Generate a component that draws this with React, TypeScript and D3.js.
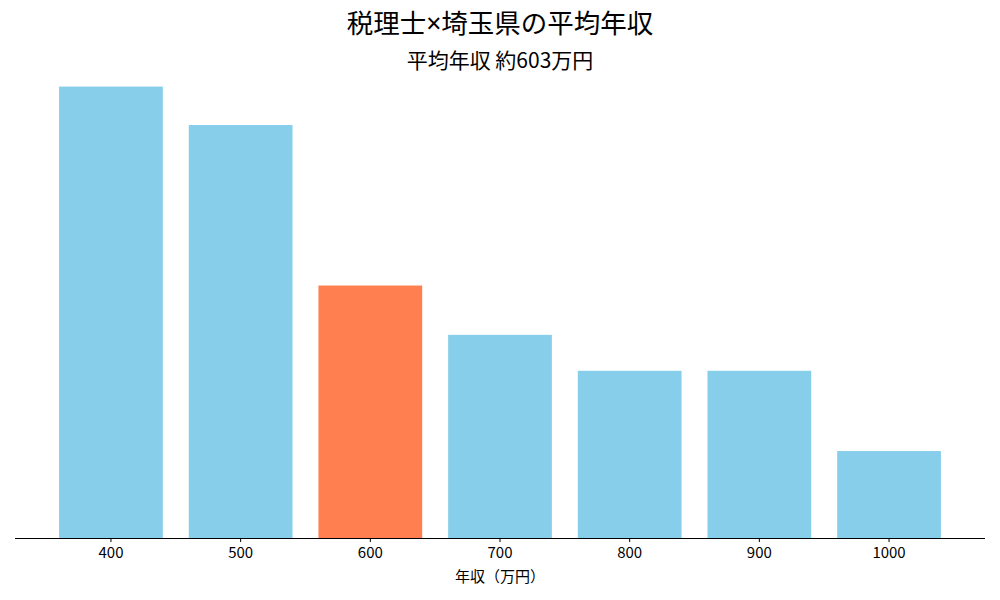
import React from 'react';
import * as d3 from 'd3';

// income buckets (万円) and relative share
const categories = ['400', '500', '600', '700', '800', '900', '1000'];
const values = [27.0, 24.7, 15.1, 12.15, 10.0, 10.0, 5.2];
const highlight = '600';

const titleParts = ['税理士', '×', '埼玉県の平均年収'];
const subtitle = '平均年収 約603万円';
const xLabel = '年収（万円）';

const W = 1000;
const H = 600;
const left = 15;
const right = 985;
const baseY = 538;
const topY = 64;
const font = '"Noto Sans CJK JP", "Noto Sans", sans-serif';

export default function App() {
  const n = categories.length;
  const barW = 0.8;
  const span = n - 1 + barW;
  const x = d3
    .scaleLinear()
    .domain([-barW / 2 - span * 0.05, n - 1 + barW / 2 + span * 0.05])
    .range([left, right]);
  const y = d3
    .scaleLinear()
    .domain([0, d3.max(values)! * 1.05])
    .range([baseY, topY]);

  return (
    <svg width={W} height={H} style={{ display: 'block', margin: -8 }} fontFamily={font}>
      <rect width={W} height={H} fill="#fff" />
      <text x={W / 2} y={33} textAnchor="middle" fontSize={26.5} fill="#000">
        <tspan>{titleParts[0]}</tspan>
        <tspan fontFamily="'Noto Sans', sans-serif">{titleParts[1]}</tspan>
        <tspan>{titleParts[2]}</tspan>
      </text>
      <text x={W / 2} y={68} textAnchor="middle" fontSize={21} fill="#000">
        {subtitle}
      </text>
      {categories.map((c, i) => (
        <rect
          key={c}
          x={x(i - barW / 2)}
          y={y(values[i])}
          width={x(i + barW / 2) - x(i - barW / 2)}
          height={baseY - y(values[i])}
          fill={c === highlight ? '#FF7F50' : '#87CEEB'}
        />
      ))}
      <line x1={left} x2={right} y1={baseY + 0.5} y2={baseY + 0.5} stroke="#000" strokeWidth={1} shapeRendering="crispEdges" />
      {categories.map((c, i) => (
        <g key={c} transform={`translate(${x(i)},${baseY})`}>
          <line y1={0} y2={4} stroke="#000" />
          <text y={20} textAnchor="middle" fontSize={15} fill="#000">
            {c}
          </text>
        </g>
      ))}
      <text x={(left + right) / 2} y={582} textAnchor="middle" fontSize={15} fill="#000">
        {xLabel}
      </text>
    </svg>
  );
}
